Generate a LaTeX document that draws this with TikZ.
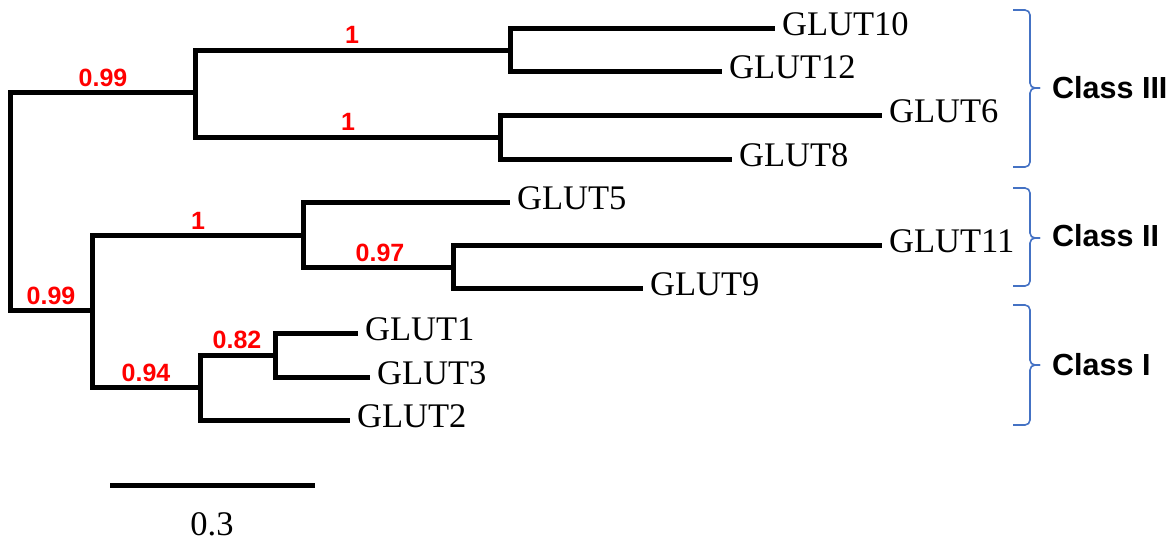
\documentclass[tikz,border=0pt]{standalone}
\usepackage{fontspec}
\setmainfont{Liberation Serif}
\newfontfamily\arialfont{Liberation Sans}
\definecolor{bracecol}{RGB}{68,114,196}
\begin{document}
\begin{tikzpicture}[x=1pt,y=-1pt,
  branch/.style={line width=5pt, line join=miter, line cap=butt, draw=black},
  leaf/.style={anchor=west, inner sep=0pt, font=\fontsize{34.5}{40}\selectfont, xshift=7pt, yshift=4pt},
  support/.style={inner sep=0pt, text=red, font=\arialfont\bfseries\fontsize{25}{28}\selectfont},
  classlbl/.style={anchor=west, inner sep=0pt, font=\arialfont\bfseries\fontsize{30.5}{34}\selectfont},
  bracepath/.style={draw=bracecol, line width=1.6pt, rounded corners=5pt}]
\useasboundingbox (0,0) rectangle (1173,542);
% internal nodes
\coordinate (R) at (10,200);
\coordinate (A) at (195,92);
\coordinate (B) at (510,50);
\coordinate (C) at (500,137);
\coordinate (D) at (92,310);
\coordinate (E) at (303,235);
\coordinate (F) at (453,267);
\coordinate (G) at (200,387);
\coordinate (H) at (275,355);
% leaf ends
\coordinate (g10) at (775,28);
\coordinate (g12) at (722,71);
\coordinate (g6) at (882,115);
\coordinate (g8) at (732,159);
\coordinate (g5) at (510,202);
\coordinate (g11) at (882,245);
\coordinate (g9) at (643,288);
\coordinate (g1) at (358,333);
\coordinate (g3) at (370,377);
\coordinate (g2) at (350,420);
% edges
\draw[branch] (R) |- (A);
\draw[branch] (R) |- (D);
\draw[branch] (A) |- (B);
\draw[branch] (A) |- (C);
\draw[branch] (B) |- (g10);
\draw[branch] (B) |- (g12);
\draw[branch] (C) |- (g6);
\draw[branch] (C) |- (g8);
\draw[branch] (D) |- (E);
\draw[branch] (D) |- (G);
\draw[branch] (E) |- (g5);
\draw[branch] (E) |- (F);
\draw[branch] (F) |- (g11);
\draw[branch] (F) |- (g9);
\draw[branch] (G) |- (H);
\draw[branch] (G) |- (g2);
\draw[branch] (H) |- (g1);
\draw[branch] (H) |- (g3);
% leaf labels
\node[leaf] (t10) at (g10) {GLUT10};
\node[leaf] (t12) at (g12) {GLUT12};
\node[leaf] (t6) at (g6) {GLUT6};
\node[leaf] (t8) at (g8) {GLUT8};
\node[leaf] (t5) at (g5) {GLUT5};
\node[leaf] (t11) at (g11) {GLUT11};
\node[leaf] (t9) at (g9) {GLUT9};
\node[leaf] (t1) at (g1) {GLUT1};
\node[leaf] (t3) at (g3) {GLUT3};
\node[leaf] (t2) at (g2) {GLUT2};
% support values
\node[support] (sA) at (103,78) {0.99};
\node[support] (sB) at (352,35) {1};
\node[support] (sC) at (348,122) {1};
\node[support] (sD) at (51,296) {0.99};
\node[support] (sE) at (198,221) {1};
\node[support] (sF) at (380,253) {0.97};
\node[support] (sG) at (146,373) {0.94};
\node[support] (sH) at (237,340) {0.82};
% braces
\draw[bracepath] (1013,10) -- (1030,10) -- (1030,88) -- (1040,88);
\draw[bracepath] (1013,167) -- (1030,167) -- (1030,88) -- (1040,88);
\draw[bracepath] (1013,188) -- (1030,188) -- (1030,238) -- (1040,238);
\draw[bracepath] (1013,286) -- (1030,286) -- (1030,238) -- (1040,238);
\draw[bracepath] (1013,305) -- (1030,305) -- (1030,365) -- (1040,365);
\draw[bracepath] (1013,425) -- (1030,425) -- (1030,365) -- (1040,365);
\node[classlbl] (c3) at (1052,88) {Class III};
\node[classlbl] (c2) at (1052,236) {Class II};
\node[classlbl] (c1) at (1052,365) {Class I};
% scale bar
\coordinate (sb1) at (110,485);
\coordinate (sb2) at (315,485);
\draw[branch] (sb1) -- (sb2);
\node[inner sep=0pt, font=\fontsize{34.5}{40}\selectfont] (sbl) at (212,524) {0.3};
\end{tikzpicture}
\end{document}
